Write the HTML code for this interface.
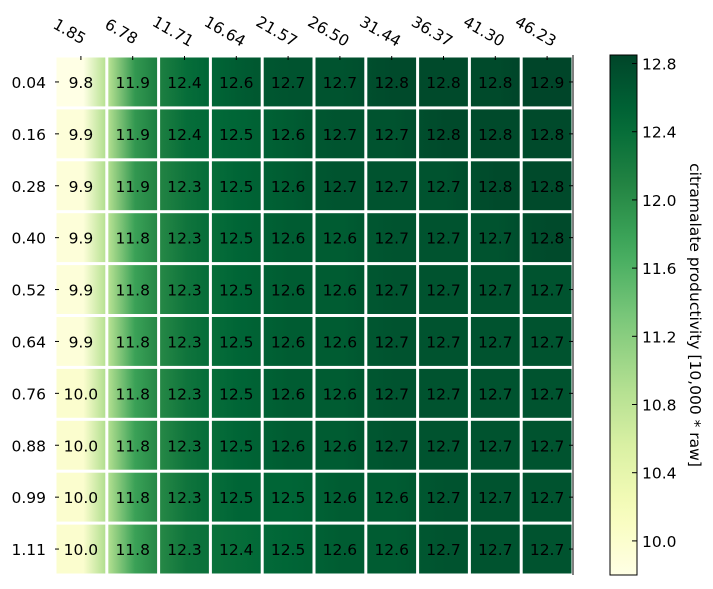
<!DOCTYPE html>
<html><head><meta charset="utf-8"><style>
body{margin:0;background:#fff;font-family:"DejaVu Sans","Liberation Sans",sans-serif}
text{font-family:"DejaVu Sans","Liberation Sans",sans-serif}
</style></head><body>
<svg id="chart" width="713" height="585" xmlns="http://www.w3.org/2000/svg"></svg>
<script>
const xLabels=["1.85","6.78","11.71","16.64","21.57","26.50","31.44","36.37","41.30","46.23"];
const yLabels=["0.04","0.16","0.28","0.40","0.52","0.64","0.76","0.88","0.99","1.11"];
const row0=[9.8,11.9,12.4,12.6,12.7,12.7,12.8,12.8,12.8,12.9];
const row1=[9.9,11.9,12.4,12.5,12.6,12.7,12.7,12.8,12.8,12.8];
const row2=[9.9,11.9,12.3,12.5,12.6,12.7,12.7,12.7,12.8,12.8];
const row3=[9.9,11.8,12.3,12.5,12.6,12.6,12.7,12.7,12.7,12.8];
const row4=[9.9,11.8,12.3,12.5,12.6,12.6,12.7,12.7,12.7,12.7];
const row5=[9.9,11.8,12.3,12.5,12.6,12.6,12.7,12.7,12.7,12.7];
const row6=[10.0,11.8,12.3,12.5,12.6,12.6,12.7,12.7,12.7,12.7];
const row7=[10.0,11.8,12.3,12.5,12.6,12.6,12.7,12.7,12.7,12.7];
const row8=[10.0,11.8,12.3,12.5,12.5,12.6,12.6,12.7,12.7,12.7];
const row9=[10.0,11.8,12.3,12.4,12.5,12.6,12.6,12.7,12.7,12.7];
const values=[row0,row1,row2,row3,row4,row5,row6,row7,row8,row9];
const cbTicks=[10.0,10.4,10.8,11.2,11.6,12.0,12.4,12.8];
const vmin=9.8,vmax=12.85;

const NS="http://www.w3.org/2000/svg";
const svg=document.getElementById('chart');
function mk(t,a,p){const e=document.createElementNS(NS,t);for(const k in a)e.setAttribute(k,a[k]);(p||svg).appendChild(e);return e;}
const stops=["#ffffe5","#f7fcb9","#d9f0a3","#addd8e","#78c679","#41ab5d","#238443","#006837","#004529"];
function hex(h){return [1,3,5].map(i=>parseInt(h.substr(i,2),16));}
function cmap(v){let t=(v-vmin)/(vmax-vmin);t=Math.max(0,Math.min(1,t))*(stops.length-1);const i=Math.min(Math.floor(t),stops.length-2),f=t-i;const a=hex(stops[i]),b=hex(stops[i+1]);return `rgb(${a.map((c,k)=>Math.round(c+(b[k]-c)*f)).join(',')})`;}
const L=55,T=56,R=573,B=575,nC=xLabels.length,nR=yLabels.length;
const cw=(R-L)/nC,ch=(B-T)/nR;
const xC=i=>L+cw*(i+0.5), yC=j=>T+ch*(j+0.5);
const FS=15.5;
const defs=mk('defs',{});
const cells=mk('g',{});


values.forEach((row,j)=>row.forEach((v,i)=>{
  const id='g'+j+'_'+i;
  const g=mk('linearGradient',{id:id,x1:0,x2:1,y1:0,y2:0},defs);
  const lv=i>0?(row[i-1]+v)/2:v, rv=i<nC-1?(row[i+1]+v)/2:v;
  mk('stop',{offset:'0','stop-color':cmap(lv)},g);
  mk('stop',{offset:'0.55','stop-color':cmap(v)},g);
  mk('stop',{offset:'1','stop-color':cmap(rv)},g);
  const r=mk('rect',{x:L+cw*i+1.5,y:T+ch*j+1.5,width:cw-3,height:ch-3,fill:`url(#${id})`},cells);
  
  
  const tx=mk('text',{x:xC(i),y:yC(j)+6,'text-anchor':'middle','font-size':FS,fill:'#000'},cells);
  
  
  tx.textContent=v.toFixed(1);
}));
mk('line',{x1:R,y1:T-1,x2:R,y2:B,stroke:'#000','stroke-width':1});
xLabels.forEach((s,i)=>{
  mk('line',{x1:xC(i),y1:T,x2:xC(i),y2:T+4,stroke:'#000'});
  const t=mk('text',{x:xC(i)-14,y:36,'font-size':FS,transform:`rotate(30 ${xC(i)-14} 36)`,'text-anchor':'middle'});
  
  
  t.textContent=s;
});
yLabels.forEach((s,j)=>{
  mk('line',{x1:L,y1:yC(j),x2:L+4,y2:yC(j),stroke:'#000'});
  mk('line',{x1:R-4,y1:yC(j),x2:R,y2:yC(j),stroke:'#000'});
  const t=mk('text',{x:46,y:yC(j)+6,'font-size':FS,'text-anchor':'end'});
  
  
  t.textContent=s;
});
const CL=610,CR=637,CT=55,CB=575;
const cg=mk('linearGradient',{id:'cbg',x1:0,x2:0,y1:1,y2:0},defs);
for(let k=0;k<=20;k++){mk('stop',{offset:k/20,'stop-color':cmap(vmin+(vmax-vmin)*k/20)},cg);}
const cb=mk('rect',{x:CL,y:CT,width:CR-CL,height:CB-CT,fill:'url(#cbg)',stroke:'#000','stroke-width':1});


const cy=v=>CB-(v-vmin)/(vmax-vmin)*(CB-CT);
cbTicks.forEach(v=>{
  mk('line',{x1:CR-5,y1:cy(v),x2:CR,y2:cy(v),stroke:'#000'});
  const t=mk('text',{x:CR+5,y:cy(v)+6,'font-size':FS});
  
  
  t.textContent=v.toFixed(1);
});
const ct=mk('text',{x:690,y:315,'font-size':FS,'text-anchor':'middle',transform:'rotate(90 690 315)'});


ct.textContent='citramalate productivity [10,000 * raw]';
</script>
</body></html>
